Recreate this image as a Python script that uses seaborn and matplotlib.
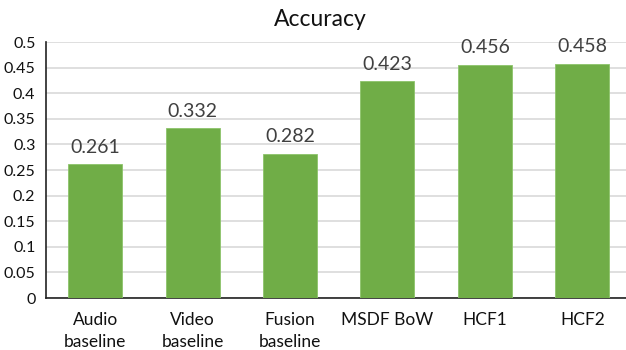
import matplotlib
matplotlib.use("Agg")
import matplotlib.pyplot as plt
import seaborn as sns
import pandas as pd

categories = ["Audio\nbaseline", "Video\nbaseline", "Fusion\nbaseline", "MSDF BoW", "HCF1", "HCF2"]
accuracy = [0.261, 0.332, 0.282, 0.423, 0.456, 0.458]
yticks = [0, 0.05, 0.1, 0.15, 0.2, 0.25, 0.3, 0.35, 0.4, 0.45, 0.5]
ytick_labels = ["0", "0.05", "0.1", "0.15", "0.2", "0.25", "0.3", "0.35", "0.4", "0.45", "0.5"]

sns.set_theme(style="white")
plt.rcParams['font.family'] = ['Lato', 'DejaVu Sans']

df = pd.DataFrame({"cat": categories, "acc": accuracy})

W, H = 626, 350
fig = plt.figure(figsize=(W / 100, H / 100), dpi=100)
left, right_px = 46.5, 631
ax = fig.add_axes([left / W, 1 - 298 / H, (right_px - left) / W, (298 - 42) / H])

sns.barplot(data=df, x="cat", y="acc", color="#70AD47", width=0.555, ax=ax,
            saturation=1, zorder=3, edgecolor="#8cc46a", linewidth=0.6)

ax.set_ylim(0, 0.5)
ax.set_xlim(-0.5, 5.5)
ax.set_yticks(yticks)
ax.set_yticklabels(ytick_labels)
ax.yaxis.grid(True, color="#d9d9d9", linewidth=1.2, zorder=0)
ax.set_axisbelow(True)
for s in ["top", "right"]:
    ax.spines[s].set_visible(False)
ax.spines["left"].set_color("#222222")
ax.spines["bottom"].set_color("#222222")
ax.spines["left"].set_linewidth(1.2)
ax.spines["bottom"].set_linewidth(1.2)
ax.tick_params(axis="y", length=0, labelsize=11.5, colors="#111111", pad=8)
ax.tick_params(axis="x", length=0, labelsize=12.5, colors="#111111", pad=10)
for lbl in ax.get_xticklabels():
    lbl.set_linespacing(1.45)
ax.set_xlabel("")
ax.set_ylabel("")

for i, v in enumerate(accuracy):
    ax.annotate(f"{v:.3f}", (i, v), xytext=(0, 6), textcoords="offset points",
                ha="center", va="bottom", fontsize=14, color="#404040")

fig.text(320 / W, 1 - 20 / H, "Accuracy", ha="center", va="center", fontsize=16.5, color="#111111")

fig.savefig("out.png", dpi=100)
